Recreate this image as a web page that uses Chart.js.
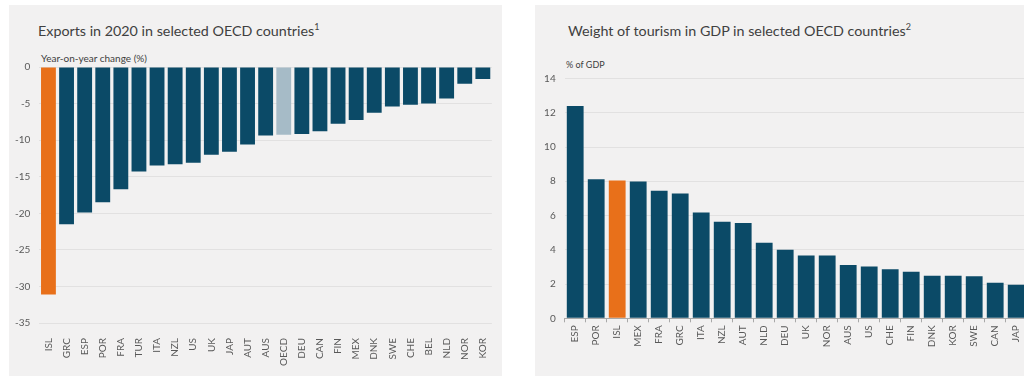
<!DOCTYPE html>
<html>
<head>
<meta charset="utf-8">
<script src="https://cdn.jsdelivr.net/npm/chart.js@4/dist/chart.umd.min.js"></script>
<style>
  html, body { margin:0; padding:0; background:#fff; width:1024px; height:376px; overflow:hidden; font-family: Lato, 'Open Sans', sans-serif; }
  .panel { position:absolute; background:#f2f1f1; }
  .title { position:absolute; font-size:14.3px; color:#404040; white-space:nowrap; }
  .title sup { font-size:9px; vertical-align: 6px; line-height:0; }
  .unit { position:absolute; font-size:9px; color:#404040; white-space:nowrap; }
  .chart { position:absolute; top:0; }
</style>
</head>
<body>
<div class="panel" style="left:9px; top:5px; width:493px; height:372px;"></div>
<div class="panel" style="left:535px; top:5px; width:495px; height:372px;"></div>

<div class="title" style="left:38px; top:22px;">Exports in 2020 in selected OECD countries<sup>1</sup></div>
<div class="unit" style="left:41px; top:52px; font-size:10px;">Year-on-year change (%)</div>

<div class="title" style="left:568px; top:22px;">Weight of tourism in GDP in selected OECD countries<sup>2</sup></div>
<div class="unit" style="left:566px; top:59px;">% of GDP</div>

<div class="chart" style="left:0px;"><canvas id="exports-chart" width="502" height="376"></canvas></div>
<div class="chart" style="left:512px;"><canvas id="tourism-chart" width="520" height="376"></canvas></div>

<script>
// Exports, year-on-year change (%)
const exportCountries = ['ISL','GRC','ESP','POR','FRA','TUR','ITA','NZL','US','UK','JAP','AUT','AUS','OECD','DEU','CAN','FIN','MEX','DNK','SWE','CHE','BEL','NLD','NOR','KOR'];
const exportChange = [-31.1,-21.5,-19.9,-18.5,-16.7,-14.3,-13.45,-13.3,-13.1,-12.0,-11.6,-10.6,-9.35,-9.25,-9.15,-8.8,-7.75,-7.25,-6.25,-5.4,-5.15,-5.0,-4.3,-2.3,-1.65];
const exportTicks = [0,-5,-10,-15,-20,-25,-30,-35];

// Tourism share of GDP (%)
const tourismCountries = ['ESP','POR','ISL','MEX','FRA','GRC','ITA','NZL','AUT','NLD','DEU','UK','NOR','AUS','US','CHE','FIN','DNK','KOR','SWE','CAN','JAP'];
const tourismShare = [12.4,8.12,8.05,7.99,7.44,7.29,6.18,5.63,5.57,4.41,4.0,3.67,3.67,3.11,3.03,2.86,2.72,2.49,2.49,2.45,2.08,1.96];
const tourismTicks = [0,2,4,6,8,10,12,14];

const colorMain = '#0b4a67';
const colorIceland = '#e8701a';
const colorOecd = '#a6bbc7';

function barColors(labels) {
    return labels.map(c => c === 'ISL' ? colorIceland : (c === 'OECD' ? colorOecd : colorMain));
}

const tickFont = { family: 'Lato, "Open Sans", sans-serif', size: 10 };
const tickColor = '#595959';
const gridColor = '#e2e1e1';

// Left chart: exports
new Chart(document.getElementById('exports-chart').getContext('2d'), {
    type: 'bar',
    data: {
        labels: exportCountries,
        datasets: [{
            data: exportChange,
            backgroundColor: barColors(exportCountries),
            categoryPercentage: 1,
            barPercentage: 0.82
        }]
    },
    options: {
        responsive: false,
        animation: false,
        devicePixelRatio: 1,
        layout: { padding: { top: 67, right: 7.7, bottom: 8, left: 0 } },
        plugins: { legend: { display: false }, tooltip: { enabled: false } },
        scales: {
            x: {
                grid: { display: false },
                border: { display: false },
                ticks: { autoSkip: false, minRotation: 90, maxRotation: 90, padding: 7, color: tickColor, font: tickFont },
                afterFit: s => { s.height = 45; }
            },
            y: {
                min: -35, max: 0,
                afterBuildTicks: s => { s.ticks = exportTicks.map(v => ({ value: v })); },
                grid: { color: gridColor, drawTicks: false },
                border: { display: false },
                ticks: { padding: 9, color: tickColor, font: tickFont },
                afterFit: s => { s.width = 39.4; }
            }
        }
    }
});

// Right chart: tourism
new Chart(document.getElementById('tourism-chart').getContext('2d'), {
    type: 'bar',
    data: {
        labels: tourismCountries,
        datasets: [{
            data: tourismShare,
            backgroundColor: barColors(tourismCountries),
            categoryPercentage: 1,
            barPercentage: 0.8
        }]
    },
    options: {
        responsive: false,
        animation: false,
        devicePixelRatio: 1,
        layout: { padding: { top: 78.5, right: 5.3, bottom: 12.7, left: 0 } },
        plugins: { legend: { display: false }, tooltip: { enabled: false } },
        scales: {
            x: {
                grid: { display: true, drawOnChartArea: false, drawTicks: true, tickLength: 4, color: '#a8a8a8', offset: true },
                border: { display: true, color: '#a8a8a8' },
                ticks: { autoSkip: false, minRotation: 90, maxRotation: 90, padding: 3, color: tickColor, font: tickFont },
                afterFit: s => { s.height = 45; }
            },
            y: {
                min: 0, max: 14,
                afterBuildTicks: s => { s.ticks = tourismTicks.map(v => ({ value: v })); },
                grid: { color: gridColor, drawTicks: false },
                border: { display: false },
                ticks: { padding: 9, color: tickColor, font: tickFont },
                afterFit: s => { s.width = 52.7; }
            }
        }
    }
});
</script>
</body>
</html>
